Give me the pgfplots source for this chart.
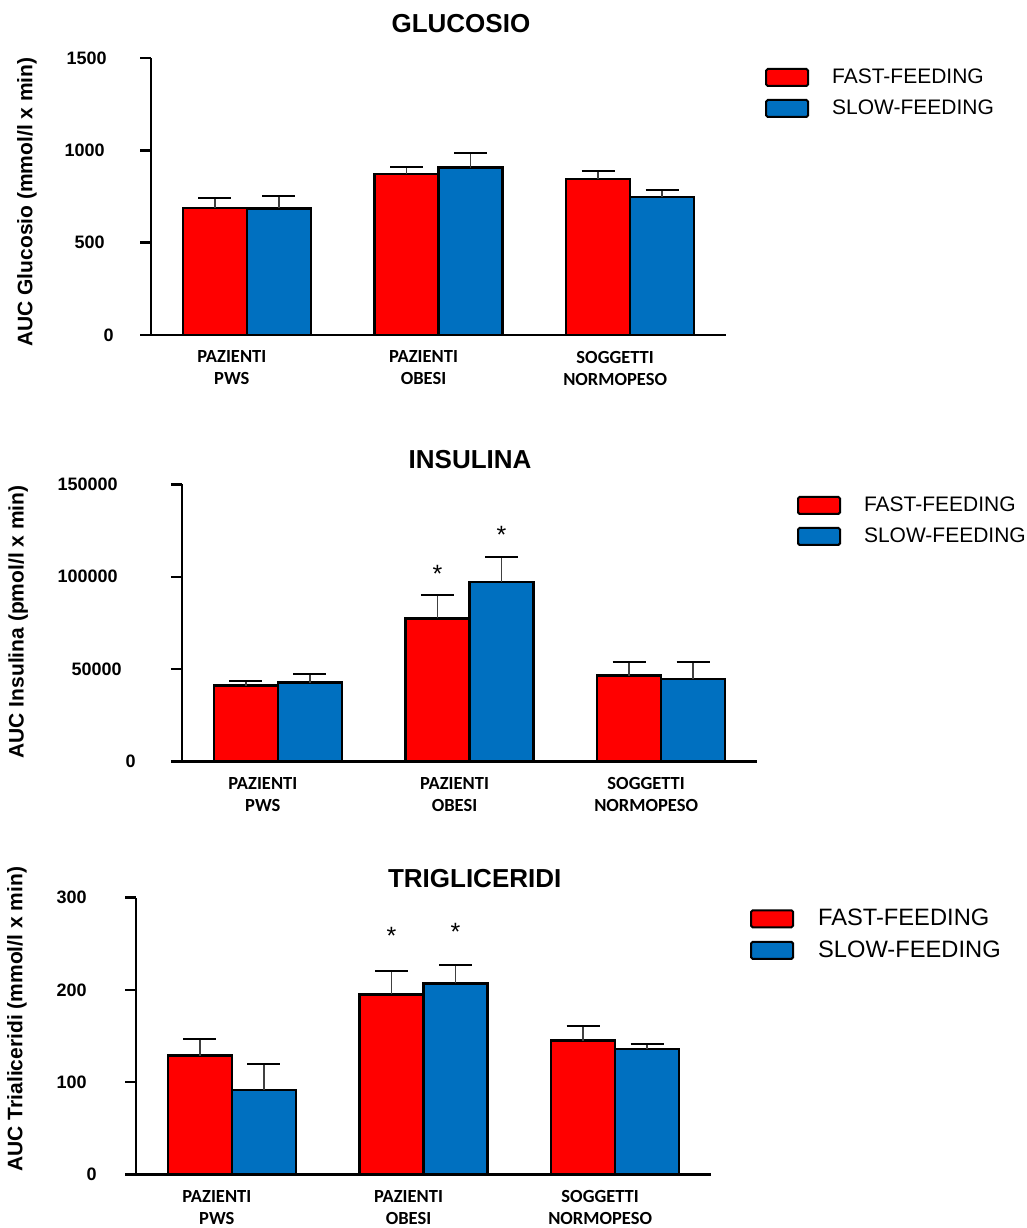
\documentclass[border=0pt]{standalone}
\usepackage{fontspec}
\setmainfont{Liberation Sans}
\newfontfamily\calibri{Carlito}
\usepackage{pgfplots}
\pgfplotsset{compat=1.18}
\usepackage{pgfplotstable}
\definecolor{ffred}{HTML}{FF0000}
\definecolor{sfblue}{HTML}{0070C0}
\definecolor{errgray}{HTML}{404040}

\pgfplotstableread{
x f fe s se
0 689 54 686 68
1 872 36 906 78
2 845 43 747 38
}\glu
\pgfplotstableread{
x f fe s se
0 41100 2700 42700 4700
1 77500 12600 97300 13400
2 46500 7600 44700 9400
}\ins
\pgfplotstableread{
x f fe s se
0 128.6 18.0 91.4 28.2
1 195.2 25.6 207.2 19.8
2 144.9 16.3 135.9 5.7
}\tri

\tikzset{starnode/.style={font=\fontsize{12.5}{14}\selectfont, anchor=base, inner sep=0pt}}

\pgfplotsset{
 legbox/.style={legend image code/.code={\draw[##1, line width=1pt, rounded corners=0.8pt] (0pt,-4.25pt) rectangle (21pt,4.25pt);}},
 fastbar/.style={fill=ffred, draw=black, line width=1.25pt, legbox,
   error bars/.cd, y dir=plus, y explicit,
   error bar style={line width=0.75pt, errgray},
   error mark options={rotate=90, mark size=8.25pt, line width=1pt, black}},
 slowbar/.style={fill=sfblue, draw=black, line width=1.25pt, legbox,
   error bars/.cd, y dir=plus, y explicit,
   error bar style={line width=0.75pt, errgray},
   error mark options={rotate=90, mark size=8.25pt, line width=1pt, black}},
 mybars/.style={
  scale only axis, width=287.5pt,
  anchor=south west,
  xmin=-0.5, xmax=2.5, ymin=0,
  axis lines*=left,
  axis line style={line width=1.25pt, -},
  ybar=0pt, bar width=32pt,
  xtick={0,1,2},
  xticklabels={{PAZIENTI\\PWS},{PAZIENTI\\OBESI},{SOGGETTI\\NORMOPESO}},
  xtick style={draw=none},
  xticklabel style={align=center, font=\calibri\bfseries\fontsize{9.25}{11}\selectfont, xshift=-7.5pt, inner sep=0pt, yshift=-2.25pt},
  tick align=outside,
  ytick style={line width=1.25pt, black},
  major tick length=5.5pt,
  scaled y ticks=false,
  yticklabel style={font=\bfseries\fontsize{9}{10}\selectfont, anchor=east, inner sep=0pt},
  /pgf/number format/assume math mode=true,
  ylabel style={font=\bfseries\fontsize{10.5}{12}\selectfont, anchor=center},
  title style={font=\bfseries\fontsize{13}{15}\selectfont, anchor=center, yshift=-6pt},
  legend style={draw=none, fill=none, font=\fontsize{10.5}{12}\selectfont, anchor=north west, column sep=11.5pt, row sep=6pt, inner sep=0pt, outer sep=0pt, nodes={inner sep=0pt}},
  legend cell align=left,
  clip=false,
 },
}

\begin{document}
\begin{tikzpicture}
\useasboundingbox (0,0) rectangle (513.5pt,-614pt);

% ---------- GLUCOSIO ----------
\begin{axis}[mybars,
  at={(75.5pt,-167.5pt)}, height=138.5pt,
  ymax=1500, ytick={0,500,1000,1500},
  yticklabels={{0\kern-5pt},{500},{1000},{1500\kern-1pt}},
  yticklabel style={xshift=-17.5pt},
  ylabel={AUC Glucosio (mmol/l x min)},
  ylabel style={at={(axis description cs:-0.2157,0.48)}},
  title={GLUCOSIO},
  title style={at={(axis description cs:0.539,1.123)}},
  legend style={at={(axis description cs:1.068,0.964)}},
]
\addplot[fastbar] table[x=x, y=f, y error=fe] {\glu};
\addplot[slowbar] table[x=x, y=s, y error=se] {\glu};
\legend{FAST-FEEDING, SLOW-FEEDING}
\end{axis}

% ---------- INSULINA ----------
\begin{axis}[mybars,
  at={(91pt,-380.85pt)}, height=138.7pt,
  ymax=150000, ytick={0,50000,100000,150000},
  yticklabels={{0\kern-14pt},{50000\kern-2pt},{100000},{150000}},
  yticklabel style={xshift=-26.5pt},
  ylabel={AUC Insulina (pmol/l x min)},
  ylabel style={at={(axis description cs:-0.285,0.504)}},
  title={INSULINA},
  title style={at={(axis description cs:0.501,1.088)}},
  legend style={at={(axis description cs:1.0696,0.958)}},
]
\addplot[fastbar] table[x=x, y=f, y error=fe] {\ins};
\addplot[slowbar] table[x=x, y=s, y error=se] {\ins};
\legend{FAST-FEEDING, SLOW-FEEDING}
\node[starnode] at (axis cs:0.8333,97000) {*};
\node[starnode] at (axis cs:1.1667,118100) {*};
\end{axis}

% ---------- TRIGLICERIDI ----------
\begin{axis}[mybars,
  at={(68pt,-587.15pt)}, height=138.3pt,
  ymax=300, ytick={0,100,200,300},
  yticklabels={{0\kern-6pt},{100},{200},{300}},
  yticklabel style={xshift=-19pt},
  ylabel={AUC Trialiceridi (mmol/l x min)},
  ylabel style={at={(axis description cs:-0.207,0.561)}},
  title={TRIGLICERIDI},
  title style={at={(axis description cs:0.589,1.071)}},
  legend style={at={(axis description cs:1.068,0.959)}, font=\fontsize{11.85}{13}\selectfont, column sep=12pt},
]
\addplot[fastbar] table[x=x, y=f, y error=fe] {\tri};
\addplot[slowbar] table[x=x, y=s, y error=se] {\tri};
\legend{FAST-FEEDING, SLOW-FEEDING}
\node[starnode] at (axis cs:0.8333,249.5) {*};
\node[starnode] at (axis cs:1.1667,254) {*};
\end{axis}
\end{tikzpicture}
\end{document}
